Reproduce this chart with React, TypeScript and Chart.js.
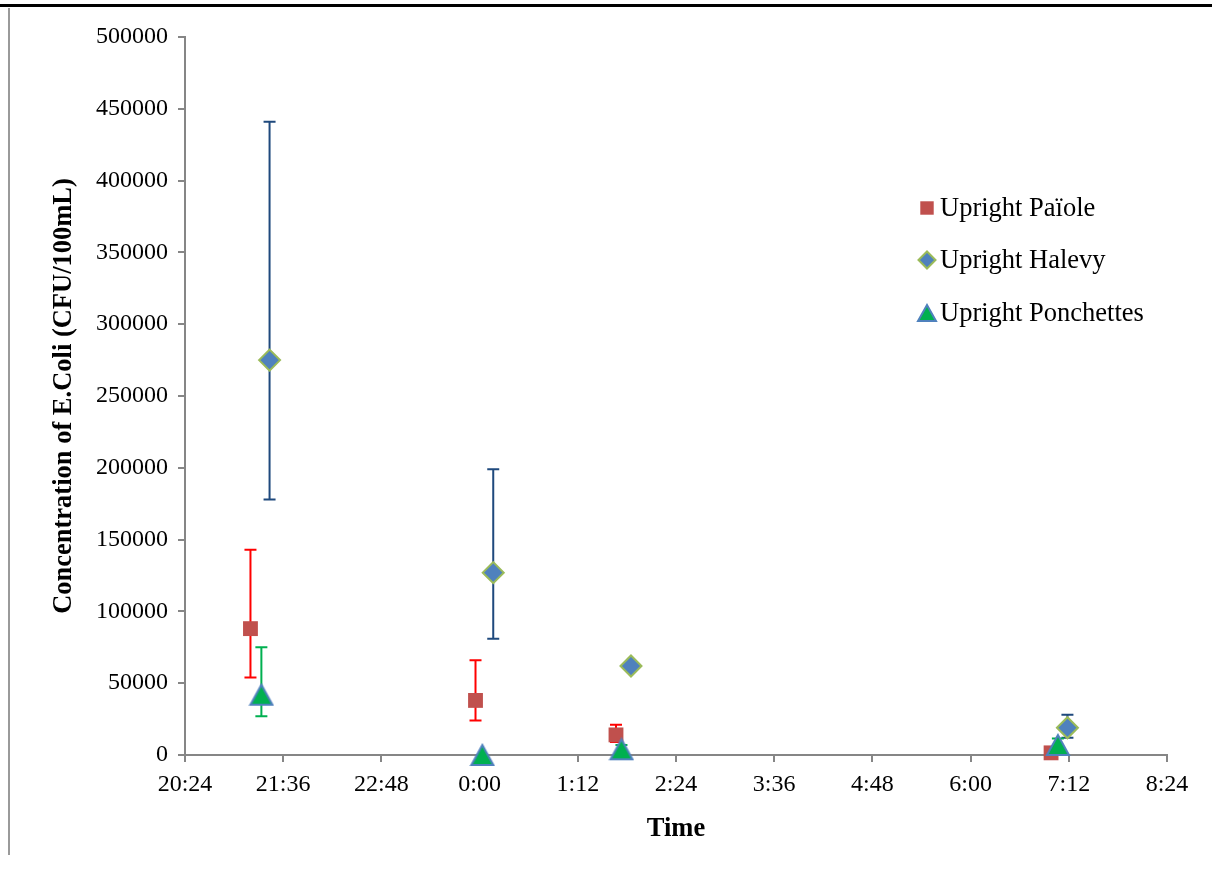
import React, { useEffect, useRef } from "react";
import { Chart, registerables } from "chart.js";
import { drawPoint } from "chart.js/helpers";

Chart.register(...registerables);

// ---- data ----
const seriesNames = ["Upright Païole", "Upright Halevy", "Upright Ponchettes"];

const paioleTimes = ["21:12", "23:57", "1:40", "6:59"];
const paioleValues = [88000, 38000, 14000, 1500];
const paioleLow = [54000, 24000, 9000, 1500];
const paioleHigh = [143000, 66000, 21000, 1500];

const halevyTimes = ["21:26", "0:10", "1:51", "7:11"];
const halevyValues = [275000, 127000, 62000, 19000];
const halevyLow = [178000, 81000, 62000, 12000];
const halevyHigh = [441000, 199000, 62000, 28000];

const ponchettesTimes = ["21:20", "0:02", "1:44", "7:04"];
const ponchettesValues = [42000, 0, 4000, 7000];
const ponchettesLow = [27000, 0, 2000, 4000];
const ponchettesHigh = [75000, 0, 7000, 11500];

const xTickStart = "20:24";
const xTickStepMinutes = 72;
const xTickCount = 10;
const yMax = 500000;
const yStep = 50000;

// ---- helpers ----
const toMin = (s: string) => {
  const [h, m] = s.split(":").map(Number);
  return h * 60 + m;
};
const baseMin = toMin(xTickStart);
const sinceBase = (s: string) => {
  let t = toMin(s);
  if (t < baseMin) t += 1440;
  return t - baseMin;
};
const fmtTime = (v: number) => {
  const t = (baseMin + v) % 1440;
  const h = Math.floor(t / 60);
  const m = Math.round(t % 60);
  return `${h}:${m < 10 ? "0" + m : m}`;
};
const toPoints = (times: string[], vals: number[]) =>
  times.map((t, i) => ({ x: sinceBase(t), y: vals[i] }));

const FONT = "'Liberation Serif', 'Times New Roman', serif";

// triangle marker centred on its bounding box (like Excel)
const makeTriangle = (w: number, h: number) => {
  const c = document.createElement("canvas");
  c.width = w + 4;
  c.height = h + 4;
  const g = c.getContext("2d")!;
  g.beginPath();
  g.moveTo(2, h + 2);
  g.lineTo(w + 2, h + 2);
  g.lineTo(w / 2 + 2, 2);
  g.closePath();
  g.fillStyle = "#00B050";
  g.fill();
  g.strokeStyle = "#4F81BD";
  g.lineWidth = 2;
  g.lineJoin = "miter";
  g.stroke();
  return c;
};

const errorBarPlugin = {
  id: "errorBars",
  beforeDatasetsDraw(chart: any) {
    const ctx = chart.ctx;
    const xs = chart.scales.x;
    const ys = chart.scales.y;
    chart.data.datasets.forEach((ds: any) => {
      const lo: number[] = ds.errLow;
      const hi: number[] = ds.errHigh;
      if (!lo || !hi) return;
      ctx.save();
      ctx.strokeStyle = ds.errColor;
      ctx.lineWidth = 2;
      ds.data.forEach((p: any, i: number) => {
        const px = xs.getPixelForValue(p.x);
        const cap = 6;
        const py = ys.getPixelForValue(p.y);
        if (hi[i] > p.y) {
          const ph = ys.getPixelForValue(hi[i]);
          ctx.beginPath();
          ctx.moveTo(px, py);
          ctx.lineTo(px, ph);
          ctx.moveTo(px - cap, ph);
          ctx.lineTo(px + cap, ph);
          ctx.stroke();
        }
        if (lo[i] < p.y) {
          const pl = ys.getPixelForValue(lo[i]);
          ctx.beginPath();
          ctx.moveTo(px, py);
          ctx.lineTo(px, pl);
          ctx.moveTo(px - cap, pl);
          ctx.lineTo(px + cap, pl);
          ctx.stroke();
        }
      });
      ctx.restore();
    });
  },
};

const legendPlugin = {
  id: "innerLegend",
  afterDraw(chart: any) {
    const ctx = chart.ctx;
    const x0 = 927;
    const ys = [208, 260, 313];
    ctx.save();
    chart.data.datasets.forEach((ds: any, i: number) => {
      const y = ys[i];
      ctx.fillStyle = ds.backgroundColor;
      ctx.strokeStyle = ds.borderColor;
      ctx.lineWidth = ds.borderWidth;
      const style = ds.legendStyle || ds.pointStyle;
      drawPoint(ctx, { pointStyle: style, radius: ds.legendRadius, rotation: 0, borderWidth: ds.borderWidth }, x0, y);
      ctx.fillStyle = "#000";
      ctx.font = `26.5px ${FONT}`;
      ctx.textBaseline = "middle";
      ctx.textAlign = "left";
      ctx.fillText(ds.label, 940, y + 1);
    });
    ctx.restore();
  },
};

export default function App() {
  const ref = useRef<HTMLCanvasElement>(null);

  useEffect(() => {
    if (!ref.current) return;
    const triBig = makeTriangle(22, 20);
    const triSmall = makeTriangle(18, 16);
    const chart = new Chart(ref.current, {
      type: "scatter",
      data: {
        datasets: [
          {
            label: seriesNames[0],
            data: toPoints(paioleTimes, paioleValues),
            pointStyle: "rect",
            pointRadius: 10.5,
            backgroundColor: "#C0504D",
            borderColor: "#C0504D",
            borderWidth: 0,
            order: 3,
            clip: false,
            errLow: paioleLow,
            errHigh: paioleHigh,
            errColor: "#FF0000",
            legendRadius: 9.5,
          } as any,
          {
            label: seriesNames[1],
            data: toPoints(halevyTimes, halevyValues),
            pointStyle: "rectRot",
            pointRadius: 10.5,
            backgroundColor: "#4F81BD",
            borderColor: "#9BBB59",
            borderWidth: 2,
            order: 2,
            clip: false,
            errLow: halevyLow,
            errHigh: halevyHigh,
            errColor: "#1F497D",
            legendRadius: 8.5,
          } as any,
          {
            label: seriesNames[2],
            data: toPoints(ponchettesTimes, ponchettesValues),
            pointStyle: triBig,
            legendStyle: triSmall,
            pointRadius: 12,
            backgroundColor: "#00B050",
            borderColor: "#4F81BD",
            borderWidth: 2,
            order: 1,
            clip: false,
            errLow: ponchettesLow,
            errHigh: ponchettesHigh,
            errColor: "#00B050",
            legendRadius: 10,
          } as any,
        ],
      },
      options: {
        responsive: false,
        animation: false,
        layout: { padding: { top: 37, right: 45, bottom: 0, left: 0 } },
        plugins: {
          legend: { display: false },
          tooltip: { enabled: false },
        },
        scales: {
          x: {
            type: "linear",
            min: 0,
            max: xTickStepMinutes * xTickCount,
            afterFit: (s: any) => {
              s.height = 115;
            },
            ticks: {
              stepSize: xTickStepMinutes,
              callback: (v: any) => fmtTime(Number(v)),
              color: "#000",
              font: { family: FONT, size: 24 },
              padding: 8,
              maxRotation: 0,
              autoSkip: false,
            },
            grid: {
              display: true,
              drawOnChartArea: false,
              drawTicks: true,
              tickLength: 7,
              color: "#868686",
              lineWidth: 2,
            },
            border: { display: true, color: "#868686", width: 2 },
            title: {
              display: true,
              text: "Time",
              color: "#000",
              font: { family: FONT, size: 26.5, weight: "bold" },
              padding: { top: 0, bottom: 25 },
            },
          },
          y: {
            type: "linear",
            min: 0,
            max: yMax,
            afterFit: (s: any) => {
              s.width = 185;
            },
            ticks: {
              stepSize: yStep,
              callback: (v: any) => String(v),
              color: "#000",
              font: { family: FONT, size: 24 },
              padding: 10,
            },
            grid: {
              display: true,
              drawOnChartArea: false,
              drawTicks: true,
              tickLength: 7,
              color: "#868686",
              lineWidth: 2,
            },
            border: { display: true, color: "#868686", width: 2 },
            title: {
              display: true,
              text: "Concentration of E.Coli (CFU/100mL)",
              color: "#000",
              font: { family: FONT, size: 26.5, weight: "bold" },
              padding: { top: 48, bottom: 0 },
            },
          },
        },
      },
      plugins: [errorBarPlugin, legendPlugin],
    });
    return () => chart.destroy();
  }, []);

  return (
    <div style={{ position: "absolute", left: 0, top: 0, width: 1212, height: 870, background: "#fff" }}>
      <div style={{ position: "absolute", left: 0, top: 4, width: 1212, height: 3, background: "#000" }} />
      <div style={{ position: "absolute", left: 8, top: 8, width: 2, height: 847, background: "#9a9a9a" }} />
      <canvas ref={ref} width={1212} height={870} style={{ position: "absolute", left: 0, top: 0 }} />
    </div>
  );
}
